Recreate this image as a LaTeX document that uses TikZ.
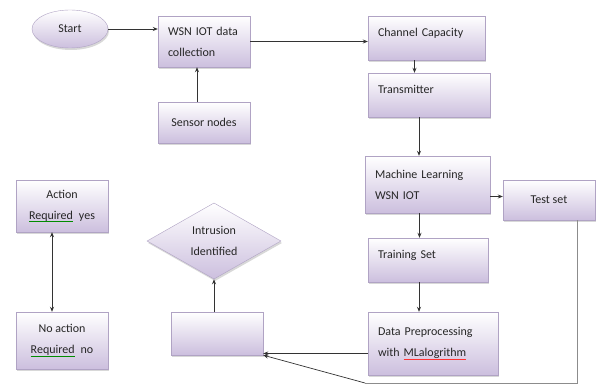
\documentclass[tikz,border=0pt]{standalone}
\usepackage{fontspec}
\setmainfont{Carlito}
\usetikzlibrary{shapes.geometric, arrows.meta, shadows}
\definecolor{boxlav}{RGB}{204,191,222}
\definecolor{boxedge}{RGB}{176,163,196}
\newlength{\spellwd}
\newcommand{\spellmark}[2]{\settowidth{\spellwd}{#2}\rlap{\textcolor{#1}{\rule[-2.5pt]{\spellwd}{0.6pt}}}#2}

\begin{document}
\begin{tikzpicture}[x=1pt, y=-1pt, >={Stealth[length=5pt,width=4pt]},
  font=\fontsize{12}{21}\selectfont,
  box/.style={draw=boxedge, top color=white, bottom color=boxlav,
              drop shadow={shadow xshift=1pt, shadow yshift=-2pt, fill=black!30},
              inner sep=0pt, text=black!85},
  lbox/.style={box, align=left, inner xsep=10pt},
  cbox/.style={box, align=center},
  upper/.style={text depth=12pt},
  oval/.style={box, ellipse, minimum width=76pt, minimum height=38pt},
  decision/.style={box, diamond, minimum width=134pt, minimum height=72pt, align=center},
  line/.style={draw=black!80, line width=0.7pt},
  arrow/.style={line, ->},
]
\fill[white] (0,0) rectangle (602,385);
\useasboundingbox (0,0) rectangle (602,385);

% Top row
\node[oval] (start) at (70,29) {Start};
\node[lbox, minimum width=92pt, text width=72pt, minimum height=51pt] (wsn) at (204,41.5) {WSN IOT data\\collection};
\node[cbox, minimum width=92pt, minimum height=41pt] (sensor) at (204,122.5) {Sensor nodes};

% Right column
\node[lbox, upper, minimum width=117pt, text width=97pt, minimum height=44pt] (chan) at (426.5,38) {Channel Capacity};
\node[lbox, upper, minimum width=122pt, text width=102pt, minimum height=44pt] (trans) at (429,95) {Transmitter};
\node[lbox, minimum width=125pt, text width=105pt, minimum height=57pt] (ml) at (427.5,184.5) {Machine Learning\\WSN IOT};
\node[cbox, minimum width=92pt, minimum height=40pt] (test) at (549,200) {Test set};
\node[lbox, upper, minimum width=120pt, text width=100pt, minimum height=44pt] (train) at (428,260) {Training Set};
\node[lbox, minimum width=130pt, text width=110pt, minimum height=63pt] (prep) at (433,343.5) {Data Preprocessing\\with \spellmark{red!80}{MLalogrithm}};

% Left part
\node[cbox, minimum width=92pt, minimum height=52pt] (action) at (62,206) {Action\\\spellmark{green!55!black}{Required}\enspace yes};
\node[cbox, minimum width=92pt, minimum height=57pt] (noaction) at (62,340.5) {No action\\\spellmark{green!55!black}{Required}\enspace no};
\node[decision] (intr) at (214,241) {Intrusion\\Identified};
\node[cbox, minimum width=92pt, minimum height=43pt] (blank) at (217,333.5) {};

% Return path
\coordinate (c1) at (577,383);
\coordinate (c2) at (365,383);

% Arrows
\draw[arrow] (start) -- (wsn.west |- start);
\draw[arrow] ([xshift=-7pt]sensor.north) -- ([xshift=-7pt]wsn.south);
\draw[arrow] (wsn.east) -- (wsn.east -| chan.west);
\draw[arrow] ([xshift=-12pt]chan.south) -- ([xshift=-12pt]chan.south |- trans.north);
\draw[arrow] ([xshift=-10pt]trans.south) -- ([xshift=-10pt]trans.south |- ml.north);
\draw[arrow] ([yshift=-12pt]ml.east) -- ([yshift=-12pt]ml.east -| test.west);
\draw[arrow] ([xshift=-8pt]ml.south) -- ([xshift=-8pt]ml.south |- train.north);
\draw[arrow] ([xshift=-9pt]train.south) -- ([xshift=-9pt]train.south |- prep.north);
\draw[arrow] ([yshift=-10pt]prep.west) -- ([yshift=-10pt]prep.west -| blank.east);
\draw[line, draw=black!45] (test.south -| c1) -- (c1) -- (c2);
\draw[arrow] (c2) -- (blank.south east);
\draw[arrow] (blank.north -| intr.south) -- (intr.south);
\draw[line, <->] ([xshift=-10pt]action.south) -- ([xshift=-10pt]action.south |- noaction.north);

\end{tikzpicture}
\end{document}
